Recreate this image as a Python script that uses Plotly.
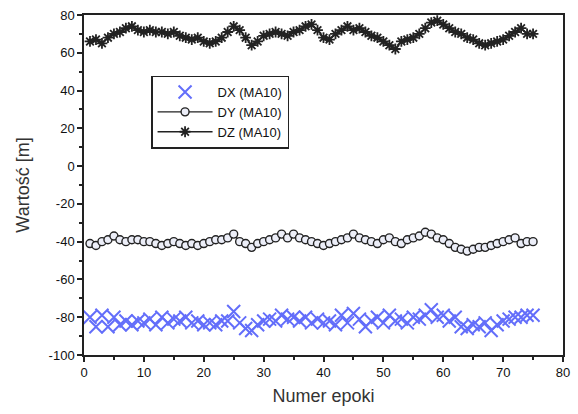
import plotly.graph_objects as go

DX = [-80,-85,-79,-85,-80,-84,-82,-84,-82,-83,-81,-84,-80,-83,-81,-82,-80,-83,-82,-84,
      -83,-84,-82,-82,-77,-83,-86,-87,-84,-82,-81,-82,-79,-81,-80,-82,-80,-83,-81,-83,
      -82,-84,-79,-83,-78,-81,-85,-82,-80,-83,-79,-82,-81,-83,-80,-81,-79,-76,-80,-79,
      -82,-80,-85,-86,-84,-85,-83,-87,-84,-82,-81,-80,-80,-79,-79]
DY = [-41,-42,-40,-39,-37,-39,-40,-39,-39,-40,-40,-41,-42,-41,-40,-41,-42,-41,-42,-41,
      -40,-39,-39,-38,-36,-40,-41,-43,-41,-40,-39,-38,-36,-38,-36,-38,-39,-40,-41,-42,
      -41,-40,-39,-38,-36,-38,-39,-40,-41,-39,-38,-40,-41,-39,-38,-37,-35,-36,-38,-39,
      -41,-43,-44,-45,-44,-43,-43,-42,-41,-40,-39,-38,-41,-40,-40]
DZ = [66,67,65,68,70,71,73,74,72,71,72,71,71,70,71,69,68,67,68,66,
      65,66,68,71,74,72,68,64,66,69,70,71,70,69,71,72,74,75,72,68,
      67,70,72,74,72,73,71,69,68,66,64,62,66,67,68,70,73,76,77,75,
      73,71,70,68,67,65,64,65,66,67,69,71,73,70,70]
NAMES = ["DX (MA10)", "DY (MA10)", "DZ (MA10)"]
X_TICKS = [0, 10, 20, 30, 40, 50, 60, 70, 80]
Y_TICKS = [-100, -80, -60, -40, -20, 0, 20, 40, 60, 80]

def xs(s):
    return list(range(1, len(s) + 1))

fig = go.Figure()
fig.add_trace(go.Scatter(x=xs(DX), y=DX, name=NAMES[0], mode="markers",
                         marker=dict(symbol="x-thin-open", size=13,
                                     line=dict(color="#4f50a8", width=2))))
fig.add_trace(go.Scatter(x=xs(DY), y=DY, name=NAMES[1], mode="lines+markers",
                         line=dict(color="#222222", width=1.4),
                         marker=dict(symbol="circle", size=8, color="#eceef8",
                                     line=dict(color="#222222", width=1.4))))
fig.add_trace(go.Scatter(x=xs(DZ), y=DZ, name=NAMES[2], mode="lines+markers",
                         line=dict(color="#222222", width=1.4),
                         marker=dict(symbol="asterisk-open", size=9,
                                     line=dict(color="#111111", width=1.8))))

axis_common = dict(showline=True, linecolor="#222222", linewidth=1.5, mirror=True,
                   ticks="outside", ticklen=5, tickwidth=1.5, tickcolor="#222222",
                   showgrid=False, zeroline=False,
                   tickfont=dict(family="Liberation Sans, Arial", size=13, color="#111111"))

fig.update_layout(
    width=578, height=414,
    margin=dict(l=84, r=8, t=13, b=59),
    paper_bgcolor="white", plot_bgcolor="white",
    font=dict(family="Liberation Sans, Arial", color="#222222"),
    xaxis=dict(range=[0, 80], tickvals=X_TICKS, ticktext=[str(v) for v in X_TICKS],
               minor=dict(dtick=5, ticks="outside", ticklen=3, tickcolor="#222222"),
               title=dict(text="Numer epoki", font=dict(size=18, color="#333333"), standoff=10),
               **axis_common),
    yaxis=dict(range=[-100, 80], tickvals=Y_TICKS, ticktext=[str(v) for v in Y_TICKS],
               minor=dict(dtick=10, ticks="outside", ticklen=3, tickcolor="#222222"),
               title=dict(text="Wartość [m]", font=dict(size=18, color="#333333"), standoff=14),
               **axis_common),
    legend=dict(x=0.14, y=0.822, xanchor="left", yanchor="top",
                bordercolor="#222222", borderwidth=1.5, bgcolor="white",
                font=dict(size=13, color="#111111"), tracegroupgap=0,
                itemwidth=55),
    showlegend=True,
)

fig.write_html("out.html")
